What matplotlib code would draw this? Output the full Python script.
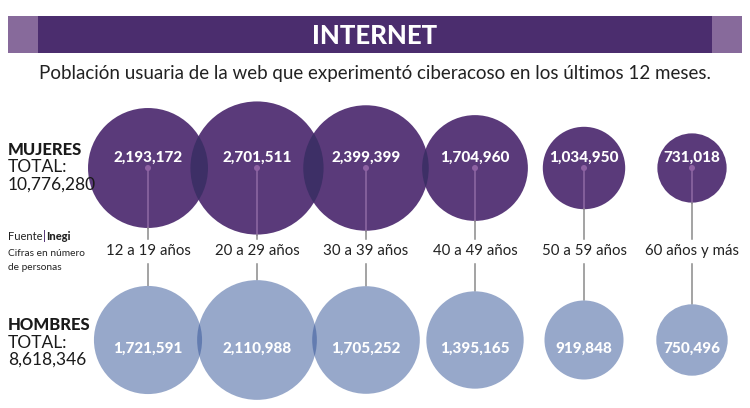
import matplotlib
matplotlib.use("Agg")
import matplotlib.pyplot as plt
from matplotlib.patches import Circle, Rectangle
import numpy as np

# ---- data ----
age_groups = ["12 a 19 años", "20 a 29 años", "30 a 39 años",
              "40 a 49 años", "50 a 59 años", "60 años y más"]
mujeres = [2193172, 2701511, 2399399, 1704960, 1034950, 731018]
hombres = [1721591, 2110988, 1705252, 1395165, 919848, 750496]
total_mujeres = "10,776,280"
total_hombres = "8,618,346"
title = "INTERNET"
subtitle = "Población usuaria de la web que experimentó ciberacoso en los últimos 12 meses."

# ---- layout / style ----
W, H = 750, 408
xs = [148, 257, 366, 475, 584, 692]
y_w, y_m = 168, 340
k_w, k_m = 0.0405, 0.0412
c_w, c_w_ov = "#5a3a7a", "#3d2f66"
c_m, c_m_ov = "#97a8ca", "#637cb0"
FONT = "Lato"

fig = plt.figure(figsize=(W / 100, H / 100), dpi=100)
ax = fig.add_axes([0, 0, 1, 1])
ax.set_xlim(0, W)
ax.set_ylim(H, 0)
ax.set_aspect("equal")
ax.axis("off")

# header
ax.add_patch(Rectangle((8, 16), 734, 37, color="#876a9b", lw=0))
ax.add_patch(Rectangle((38, 16), 674, 37, color="#4b2d6e", lw=0))
ax.text(375, 35.5, title, color="white", fontsize=18.5, fontweight="black",
        family=FONT, ha="center", va="center")
ax.text(375, 74, subtitle, color="#222222", fontsize=13.5, family=FONT,
        ha="center", va="center")


def draw_row(values, yc, k, col, col_ov, numdy):
    circles = []
    for x, v in zip(xs, values):
        r = k * np.sqrt(v)
        c = Circle((x, yc), r, color=col, lw=0, zorder=2)
        ax.add_patch(c)
        circles.append((x, r, c))
    for i in range(len(circles) - 1):
        x1, r1, c1 = circles[i]
        x2, r2, c2 = circles[i + 1]
        if x2 - x1 < r1 + r2:
            ov = Circle((x2, yc), r2, color=col_ov, lw=0, zorder=3)
            ax.add_patch(ov)
            ov.set_clip_path(c1)
    for (x, r, c), v in zip(circles, values):
        ax.text(x, yc + numdy, f"{v:,}", color="white", fontsize=11,
                fontweight="black", family=FONT, ha="center", va="center",
                zorder=6)
    return circles


cw = draw_row(mujeres, y_w, k_w, c_w, c_w_ov, -10)
cm = draw_row(hombres, y_m, k_m, c_m, c_m_ov, 9)

for (x, r, c) in cw:
    ax.plot([x, x], [y_w, y_w + r], color="#8f6aa5", lw=1.1, zorder=4)
    ax.plot([x, x], [y_w + r, 239], color="#8a8a8a", lw=1.1, zorder=4)
    ax.add_patch(Circle((x, y_w), 3, color="#8f62a3", lw=0, zorder=5))

for (x, r, c) in cm:
    ax.plot([x, x], [264, y_m - r], color="#8a8a8a", lw=1.1, zorder=1)

for x, lab in zip(xs, age_groups):
    ax.text(x, 251, lab, color="#222222", fontsize=10.8, family=FONT,
            ha="center", va="center")

# left labels
ax.text(8, 150, "MUJERES", fontsize=12, fontweight="black", family=FONT,
        color="#1a1a1a", va="center")
ax.text(8, 167, "TOTAL:", fontsize=12.5, family=FONT, color="#1a1a1a", va="center")
ax.text(8, 185, total_mujeres, fontsize=12.5, family=FONT, color="#1a1a1a", va="center")

ax.text(8, 325, "HOMBRES", fontsize=12, fontweight="black", family=FONT,
        color="#1a1a1a", va="center")
ax.text(8, 343, "TOTAL:", fontsize=12.5, family=FONT, color="#1a1a1a", va="center")
ax.text(8, 360, total_hombres, fontsize=12.5, family=FONT, color="#1a1a1a", va="center")

# source line, pieces placed one after another
fig.canvas.draw()
renderer = fig.canvas.get_renderer()
t1 = ax.text(8, 236, "Fuente", fontsize=8, family=FONT, color="#222222", va="center")
bb = t1.get_window_extent(renderer)
x_end = bb.x1 + 0.5
ax.add_patch(Rectangle((x_end + 0.5, 230), 1.6, 12, color="#5a3a7a", lw=0))
ax.text(x_end + 3.5, 236, "Inegi", fontsize=8, family=FONT, color="#222222",
        fontweight="black", va="center")
ax.text(8, 253, "Cifras en número", fontsize=7.3, family=FONT, color="#222222", va="center")
ax.text(8, 267, "de personas", fontsize=7.3, family=FONT, color="#222222", va="center")

fig.savefig("out.png", dpi=100)
